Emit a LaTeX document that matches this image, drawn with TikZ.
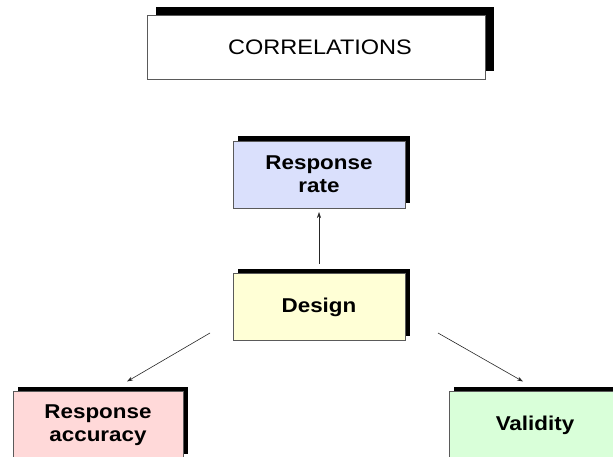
\documentclass[tikz,border=0pt]{standalone}
\usepackage{fontspec}
\setmainfont{Liberation Sans}[FakeStretch=1.12]
\usetikzlibrary{shadows,arrows.meta}

\definecolor{rateblue}{RGB}{218,224,252}
\definecolor{designyellow}{RGB}{255,255,214}
\definecolor{accpink}{RGB}{255,217,217}
\definecolor{valgreen}{RGB}{217,255,217}
\definecolor{edgegray}{RGB}{90,90,90}

\tikzset{
  panel/.style={draw=edgegray, line width=0.6pt, inner sep=0pt, outer sep=0pt,
    minimum width=172pt, minimum height=67pt, align=center,
    font=\bfseries\fontsize{20}{23}\selectfont,
    drop shadow={shadow xshift=5pt, shadow yshift=5pt, fill=black, opacity=1}},
  titlebox/.style={draw=edgegray, line width=0.6pt, fill=white, inner sep=0pt,
    outer sep=0pt, minimum width=338pt, minimum height=64pt,
    font=\fontsize{21}{24}\selectfont,
    drop shadow={shadow xshift=9pt, shadow yshift=8pt, fill=black, opacity=1}},
  link/.style={draw=black!85, line width=0.6pt,
    -{Stealth[length=6pt,width=4pt]}}
}

\begin{document}
\begin{tikzpicture}[x=1pt, y=-1pt]
  \useasboundingbox (0,0) rectangle (613,457);
  \clip (0,0) rectangle (613,457);

  % heading
  \node[titlebox] (title) at (316,47) {\hspace*{8pt}CORRELATIONS};

  % factor boxes
  \node[panel, fill=rateblue] (rate) at (319,174.5) {Response\\rate};
  \node[panel, fill=designyellow] (design) at (319,307) {Design};
  \node[panel, fill=accpink, minimum width=170pt] (accuracy) at (98,425) {Response\\accuracy};
  \node[panel, fill=valgreen] (validity) at (535,425) {Validity};

  % relations
  \draw[link] ([yshift=10pt]design.north) -- ([yshift=-4pt]rate.south);
  \draw[link] ([xshift=-23pt, yshift=-26pt]design.west) -- ([xshift=29pt, yshift=10pt]accuracy.north);
  \draw[link] ([xshift=33pt, yshift=-26pt]design.east) -- ([xshift=-12pt, yshift=10pt]validity.north);
\end{tikzpicture}
\end{document}
